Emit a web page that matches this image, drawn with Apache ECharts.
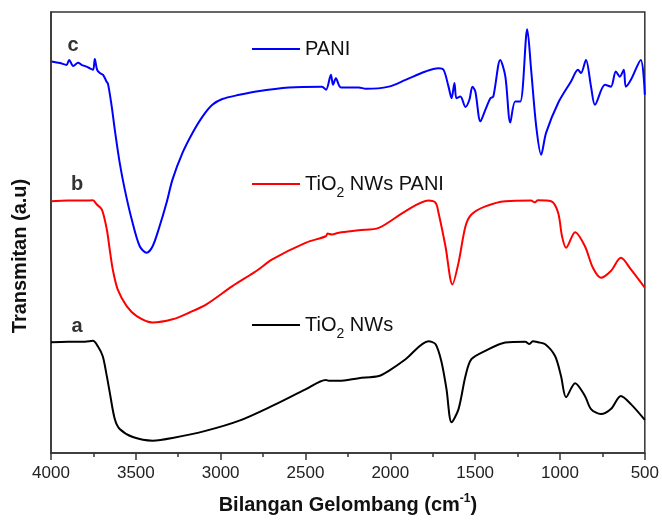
<!DOCTYPE html>
<html>
<head>
<meta charset="utf-8">
<script src="https://cdn.jsdelivr.net/npm/echarts@6/dist/echarts.min.js"></script>
<style>html,body{margin:0;padding:0;background:#fff}#c{width:662px;height:520px}</style>
</head>
<body>
<div id="c"></div>
<script>
// x tick labels (wavenumber, cm-1)
var xTicks = [4000, 3500, 3000, 2500, 2000, 1500, 1000, 500];

// a: TiO2 NWs (black)
var tiWn = [4000,3900,3800,3753,3724,3695,3671,3654,3624,3595,3518,3401,3284,3084,2890,2696,2497,2380,2362,2303,2186,2068,2009,1910,1775,1733,1698,1669,1639,1598,1557,1522,1440,1322,1205,1180,1160,1129,1087,1029,994,964,911,853,817,759,700,641,582,500];
var tiT  = [27.75,27.9,27.9,28.1,26.75,24.25,19.25,15.25,8.5,6,4,3.1,3.75,5.6,8.1,11.8,16,18.3,18.1,18.1,18.75,19.3,20.6,23.5,28,27.25,22.75,16,7.7,11,19.3,23.5,25.6,27.7,27.9,27.3,28,27.75,27.25,24.3,19.3,14,17.5,14.3,11,9.75,11,14.3,12.25,8.3];

// b: TiO2 NWs PANI (red)
var tpWn = [4000,3900,3800,3753,3730,3700,3671,3654,3636,3607,3554,3495,3401,3284,3184,3084,2931,2790,2696,2497,2380,2370,2344,2303,2186,2068,1910,1775,1733,1716,1675,1634,1598,1557,1522,1440,1322,1170,1150,1130,1052,1011,988,964,911,853,806,759,700,641,582,500];
var tpT  = [63.1,63.25,63.25,63.3,62.25,61,56,51,46,41,36.8,34.3,32.7,33.5,35.2,37.25,41.8,45.6,48.5,52.7,54.3,55,54.75,55.2,55.8,56.4,60.6,63.25,62.7,60.2,51.8,42.25,47.7,56.8,59.75,61.8,63.1,63.25,62.8,63.3,63.1,60.2,54.3,51.4,55.3,51.8,46.4,43.9,45.6,48.9,46,41.4];

// c: PANI (blue)
var paWn = [3996,3947,3908,3893,3869,3840,3820,3790,3771,3752,3742,3728,3712,3693,3673,3664,3642,3624,3595,3565,3524,3477,3436,3401,3360,3319,3284,3225,3166,3107,3049,2990,2890,2790,2597,2403,2379,2350,2338,2321,2291,2186,2144,2009,1910,1792,1716,1686,1657,1639,1622,1610,1587,1557,1534,1516,1499,1469,1440,1410,1393,1352,1322,1293,1264,1234,1193,1170,1140,1111,1082,1011,935,894,876,847,817,794,735,700,671,647,624,612,582,524,500];
var paT  = [98.1,97.7,97.25,98.5,97,97.8,97.25,96.8,96.4,96,98.7,96,95.2,94.75,93.1,92.5,86.8,81,72.7,66,58.5,51.8,50.2,51.8,56.8,62.7,68.5,75.2,80.2,84.3,87.25,88.7,89.75,90.6,91.6,91.8,91,94.75,92.25,93.9,91.6,91.6,91.25,91.8,93.5,95.6,96.4,96,91.8,88.9,92.7,88.9,89.3,86.7,88.5,91.8,90.6,83.1,86,88.9,89.3,98.5,94.3,82.8,88.1,88.1,106.2,96,81.8,74.75,80.2,87.7,93.1,96,95.2,98.5,91.8,87.25,92.25,91.8,95.6,94.3,96,91.8,93.5,98.5,89.75];

function pairs(x, y) { var r = []; for (var i = 0; i < x.length; i++) r.push([x[i], y[i]]); return r; }

var FONT = '"Liberation Sans", Arial, sans-serif';
var chart = echarts.init(document.getElementById('c'), null, {renderer: 'canvas'});

var legendRich = {
  n: {fontSize: 20, lineHeight: 32, color: '#111', fontFamily: FONT},
  s: {fontSize: 14, lineHeight: 14, padding: [18, 0, 0, 0], verticalAlign: 'top', color: '#111', fontFamily: FONT}
};
function legendFmt(name) {
  if (name === 'PANI') return '{n|PANI}';
  if (name === 'TiO2 NWs PANI') return '{n|TiO}{s|2}{n| NWs PANI}';
  return '{n|TiO}{s|2}{n| NWs}';
}
function mkLegend(name, top) {
  return {
    data: [name], left: 252, top: top, padding: 0, itemGap: 0,
    icon: 'rect', itemWidth: 48, itemHeight: 2, selectedMode: false,
    formatter: legendFmt,
    textStyle: {fontSize: 20, fontFamily: FONT, color: '#111', rich: legendRich}
  };
}

function lineSeries(name, data, color) {
  return {name: name, type: 'line', data: data, showSymbol: false, symbol: 'none',
    smooth: 0.3,
    lineStyle: {color: color, width: 2}, itemStyle: {color: color}};
}

chart.setOption({
  animation: false,
  backgroundColor: '#fff',
  grid: {left: 51, right: 15, top: 12, bottom: 66, show: true, borderColor: '#333', borderWidth: 1.5, backgroundColor: 'transparent'},
  legend: [mkLegend('PANI', 39), mkLegend('TiO2 NWs PANI', 168), mkLegend('TiO2 NWs', 309)],
  xAxis: {
    type: 'value', min: 500, max: 4000, interval: 500, inverse: true,
    name: '{b|Bilangan Gelombang (cm}{p|-1}{b|)}',
    nameLocation: 'middle', nameGap: 40,
    nameTextStyle: {rich: {
      b: {fontSize: 20, fontWeight: 'bold', fontFamily: FONT, color: '#111', lineHeight: 24},
      p: {fontSize: 12, fontWeight: 'bold', fontFamily: FONT, color: '#111', lineHeight: 12, verticalAlign: 'top', padding: [0, 0, 10, 0]}
    }},
    axisLine: {show: true, lineStyle: {color: '#333', width: 1.5}},
    axisTick: {show: true, inside: false, length: 7, lineStyle: {color: '#333', width: 1.5}},
    minorTick: {show: true, splitNumber: 2, length: 4, lineStyle: {color: '#333', width: 1.5}},
    axisLabel: {fontSize: 17, fontFamily: FONT, color: '#222', margin: 12,
      formatter: function (v) { return xTicks.indexOf(v) >= 0 ? String(v) : ''; }},
    splitLine: {show: false}, minorSplitLine: {show: false}
  },
  yAxis: {
    type: 'value', min: 0, max: 110.5,
    axisLine: {show: true, lineStyle: {color: '#333', width: 1.5}},
    axisTick: {show: false}, axisLabel: {show: false}, splitLine: {show: false}
  },
  graphic: [
    {type: 'text', x: 20, y: 256, rotation: Math.PI / 2, style: {text: 'Transmitan (a.u)', x: 0, y: 0, align: 'center', verticalAlign: 'middle', fontSize: 20, fontWeight: 'bold', fontFamily: FONT, fill: '#111'}},
    {type: 'text', x: 73, y: 45, style: {text: 'c', align: 'center', verticalAlign: 'middle', fontSize: 20, fontWeight: 'bold', fontFamily: FONT, fill: '#333'}},
    {type: 'text', x: 77, y: 184, style: {text: 'b', align: 'center', verticalAlign: 'middle', fontSize: 20, fontWeight: 'bold', fontFamily: FONT, fill: '#333'}},
    {type: 'text', x: 77, y: 326, style: {text: 'a', align: 'center', verticalAlign: 'middle', fontSize: 20, fontWeight: 'bold', fontFamily: FONT, fill: '#333'}}
  ],
  series: [
    lineSeries('PANI', pairs(paWn, paT), '#0000ff'),
    lineSeries('TiO2 NWs PANI', pairs(tpWn, tpT), '#ff0000'),
    lineSeries('TiO2 NWs', pairs(tiWn, tiT), '#000000')
  ]
});
</script>
</body>
</html>
